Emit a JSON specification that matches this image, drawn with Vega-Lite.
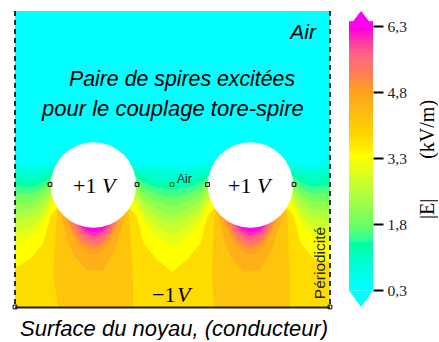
{
"$schema":"https://vega.github.io/schema/vega-lite/v6.json",
"padding":{"left":11,"top":10,"right":0,"bottom":0},
"background":"white",
"spacing":15,
"config":{"view":{"stroke":null}},
"datasets":{
"bands":[
{"E":0.3,"x":0,"y":296},{"E":0.3,"x":315,"y":296},
{"E":0.6,"x":0,"y":150},{"E":0.6,"x":7,"y":142},{"E":0.6,"x":16.5,"y":142},{"E":0.6,"x":28.5,"y":144},{"E":0.6,"x":35.5,"y":145},{"E":0.6,"x":48.5,"y":147},{"E":0.6,"x":108.5,"y":147},{"E":0.6,"x":121.5,"y":145},{"E":0.6,"x":128.5,"y":144},{"E":0.6,"x":140.5,"y":142},{"E":0.6,"x":157,"y":142},{"E":0.6,"x":173.5,"y":142},{"E":0.6,"x":185.5,"y":144},{"E":0.6,"x":192.5,"y":145},{"E":0.6,"x":205.5,"y":147},{"E":0.6,"x":265.5,"y":147},{"E":0.6,"x":278.5,"y":145},{"E":0.6,"x":285.5,"y":144},{"E":0.6,"x":302,"y":140},{"E":0.6,"x":315,"y":154},
{"E":0.9,"x":0,"y":139},{"E":0.9,"x":16.5,"y":135},{"E":0.9,"x":28.5,"y":137},{"E":0.9,"x":35.5,"y":139},{"E":0.9,"x":48.5,"y":142},{"E":0.9,"x":108.5,"y":142},{"E":0.9,"x":121.5,"y":139},{"E":0.9,"x":128.5,"y":137},{"E":0.9,"x":140.5,"y":135},{"E":0.9,"x":157,"y":134},{"E":0.9,"x":173.5,"y":135},{"E":0.9,"x":185.5,"y":137},{"E":0.9,"x":192.5,"y":139},{"E":0.9,"x":205.5,"y":142},{"E":0.9,"x":265.5,"y":142},{"E":0.9,"x":278.5,"y":139},{"E":0.9,"x":285.5,"y":137},{"E":0.9,"x":297.5,"y":135},{"E":0.9,"x":315,"y":141},
{"E":1.2,"x":0,"y":130},{"E":1.2,"x":16.5,"y":127},{"E":1.2,"x":28.5,"y":131},{"E":1.2,"x":35.5,"y":134},{"E":1.2,"x":48.5,"y":137},{"E":1.2,"x":108.5,"y":137},{"E":1.2,"x":121.5,"y":134},{"E":1.2,"x":128.5,"y":131},{"E":1.2,"x":140.5,"y":127},{"E":1.2,"x":157,"y":125},{"E":1.2,"x":173.5,"y":127},{"E":1.2,"x":185.5,"y":131},{"E":1.2,"x":192.5,"y":134},{"E":1.2,"x":205.5,"y":137},{"E":1.2,"x":265.5,"y":137},{"E":1.2,"x":278.5,"y":134},{"E":1.2,"x":285.5,"y":131},{"E":1.2,"x":297.5,"y":127},{"E":1.2,"x":315,"y":132},
{"E":1.5,"x":0,"y":121},{"E":1.5,"x":16.5,"y":120},{"E":1.5,"x":28.5,"y":125},{"E":1.5,"x":35.5,"y":130},{"E":1.5,"x":48.5,"y":133},{"E":1.5,"x":108.5,"y":133},{"E":1.5,"x":121.5,"y":130},{"E":1.5,"x":128.5,"y":125},{"E":1.5,"x":140.5,"y":120},{"E":1.5,"x":157,"y":117},{"E":1.5,"x":173.5,"y":120},{"E":1.5,"x":185.5,"y":125},{"E":1.5,"x":192.5,"y":130},{"E":1.5,"x":205.5,"y":133},{"E":1.5,"x":265.5,"y":133},{"E":1.5,"x":278.5,"y":130},{"E":1.5,"x":285.5,"y":125},{"E":1.5,"x":297.5,"y":120},{"E":1.5,"x":315,"y":122},
{"E":1.8,"x":0,"y":113},{"E":1.8,"x":16.5,"y":113},{"E":1.8,"x":28.5,"y":119},{"E":1.8,"x":35.5,"y":126},{"E":1.8,"x":48.5,"y":129},{"E":1.8,"x":108.5,"y":129},{"E":1.8,"x":121.5,"y":126},{"E":1.8,"x":128.5,"y":119},{"E":1.8,"x":140.5,"y":113},{"E":1.8,"x":157,"y":109},{"E":1.8,"x":173.5,"y":113},{"E":1.8,"x":185.5,"y":119},{"E":1.8,"x":192.5,"y":126},{"E":1.8,"x":205.5,"y":129},{"E":1.8,"x":265.5,"y":129},{"E":1.8,"x":278.5,"y":126},{"E":1.8,"x":285.5,"y":119},{"E":1.8,"x":297.5,"y":113},{"E":1.8,"x":315,"y":114},
{"E":2.1,"x":0,"y":104},{"E":2.1,"x":16.5,"y":106},{"E":2.1,"x":28.5,"y":113},{"E":2.1,"x":35.5,"y":122},{"E":2.1,"x":48.5,"y":125},{"E":2.1,"x":108.5,"y":125},{"E":2.1,"x":121.5,"y":122},{"E":2.1,"x":128.5,"y":113},{"E":2.1,"x":140.5,"y":106},{"E":2.1,"x":157,"y":101},{"E":2.1,"x":173.5,"y":106},{"E":2.1,"x":185.5,"y":113},{"E":2.1,"x":192.5,"y":122},{"E":2.1,"x":205.5,"y":125},{"E":2.1,"x":265.5,"y":125},{"E":2.1,"x":278.5,"y":122},{"E":2.1,"x":285.5,"y":113},{"E":2.1,"x":297.5,"y":106},{"E":2.1,"x":315,"y":105},
{"E":2.4,"x":0,"y":94},{"E":2.4,"x":16.5,"y":98},{"E":2.4,"x":28.5,"y":107},{"E":2.4,"x":35.5,"y":117},{"E":2.4,"x":48.5,"y":121},{"E":2.4,"x":108.5,"y":121},{"E":2.4,"x":121.5,"y":117},{"E":2.4,"x":128.5,"y":107},{"E":2.4,"x":140.5,"y":98},{"E":2.4,"x":157,"y":92},{"E":2.4,"x":173.5,"y":98},{"E":2.4,"x":185.5,"y":107},{"E":2.4,"x":192.5,"y":117},{"E":2.4,"x":205.5,"y":121},{"E":2.4,"x":265.5,"y":121},{"E":2.4,"x":278.5,"y":117},{"E":2.4,"x":285.5,"y":107},{"E":2.4,"x":297.5,"y":98},{"E":2.4,"x":315,"y":96},
{"E":2.7,"x":0,"y":85},{"E":2.7,"x":16.5,"y":90},{"E":2.7,"x":28.5,"y":100},{"E":2.7,"x":35.5,"y":112},{"E":2.7,"x":48.5,"y":117},{"E":2.7,"x":108.5,"y":117},{"E":2.7,"x":121.5,"y":112},{"E":2.7,"x":128.5,"y":100},{"E":2.7,"x":140.5,"y":90},{"E":2.7,"x":157,"y":83},{"E":2.7,"x":173.5,"y":90},{"E":2.7,"x":185.5,"y":100},{"E":2.7,"x":192.5,"y":112},{"E":2.7,"x":205.5,"y":117},{"E":2.7,"x":265.5,"y":117},{"E":2.7,"x":278.5,"y":112},{"E":2.7,"x":285.5,"y":100},{"E":2.7,"x":297.5,"y":90},{"E":2.7,"x":315,"y":86},
{"E":3.0,"x":0,"y":75},{"E":3.0,"x":16.5,"y":81},{"E":3.0,"x":28.5,"y":93},{"E":3.0,"x":35.5,"y":107},{"E":3.0,"x":48.5,"y":113},{"E":3.0,"x":108.5,"y":113},{"E":3.0,"x":121.5,"y":107},{"E":3.0,"x":128.5,"y":93},{"E":3.0,"x":140.5,"y":81},{"E":3.0,"x":157,"y":73},{"E":3.0,"x":173.5,"y":81},{"E":3.0,"x":185.5,"y":93},{"E":3.0,"x":192.5,"y":107},{"E":3.0,"x":205.5,"y":113},{"E":3.0,"x":265.5,"y":113},{"E":3.0,"x":278.5,"y":107},{"E":3.0,"x":285.5,"y":93},{"E":3.0,"x":297.5,"y":81},{"E":3.0,"x":315,"y":76},
{"E":3.3,"x":0,"y":63},{"E":3.3,"x":16.5,"y":71},{"E":3.3,"x":28.5,"y":85},{"E":3.3,"x":35.5,"y":102},{"E":3.3,"x":48.5,"y":109},{"E":3.3,"x":108.5,"y":109},{"E":3.3,"x":121.5,"y":102},{"E":3.3,"x":128.5,"y":85},{"E":3.3,"x":140.5,"y":71},{"E":3.3,"x":157,"y":61},{"E":3.3,"x":173.5,"y":71},{"E":3.3,"x":185.5,"y":85},{"E":3.3,"x":192.5,"y":102},{"E":3.3,"x":205.5,"y":109},{"E":3.3,"x":265.5,"y":109},{"E":3.3,"x":278.5,"y":102},{"E":3.3,"x":285.5,"y":85},{"E":3.3,"x":297.5,"y":71},{"E":3.3,"x":315,"y":64},
{"E":3.7,"x":0,"y":39},{"E":3.7,"x":16.5,"y":49},{"E":3.7,"x":28.5,"y":64},{"E":3.7,"x":35.5,"y":91},{"E":3.7,"x":48.5,"y":107},{"E":3.7,"x":108.5,"y":107},{"E":3.7,"x":121.5,"y":91},{"E":3.7,"x":128.5,"y":64},{"E":3.7,"x":140.5,"y":49},{"E":3.7,"x":157,"y":35},{"E":3.7,"x":173.5,"y":49},{"E":3.7,"x":185.5,"y":64},{"E":3.7,"x":192.5,"y":91},{"E":3.7,"x":205.5,"y":107},{"E":3.7,"x":265.5,"y":107},{"E":3.7,"x":278.5,"y":91},{"E":3.7,"x":285.5,"y":64},{"E":3.7,"x":297.5,"y":49},{"E":3.7,"x":315,"y":45}
],
"blobs":[
{"id":"a1","E":4.1,"x":38,"y":34,"y2":34},{"id":"a1","E":4.1,"x":40,"y":62,"y2":20},{"id":"a1","E":4.1,"x":42,"y":95,"y2":7},{"id":"a1","E":4.1,"x":43,"y":96,"y2":0},{"id":"a1","E":4.1,"x":45,"y":102,"y2":0},{"id":"a1","E":4.1,"x":112,"y":102,"y2":0},{"id":"a1","E":4.1,"x":114,"y":92,"y2":0},{"id":"a1","E":4.1,"x":118,"y":30,"y2":0},
{"id":"a2","E":4.1,"x":197,"y":34,"y2":34},{"id":"a2","E":4.1,"x":198,"y":60,"y2":15},{"id":"a2","E":4.1,"x":199,"y":90,"y2":5},{"id":"a2","E":4.1,"x":200,"y":92,"y2":0},{"id":"a2","E":4.1,"x":203,"y":102,"y2":0},{"id":"a2","E":4.1,"x":269,"y":102,"y2":0},{"id":"a2","E":4.1,"x":272,"y":94,"y2":0},{"id":"a2","E":4.1,"x":275,"y":30,"y2":0},
{"id":"b1","E":4.5,"x":45,"y":102,"y2":97},{"id":"b1","E":4.5,"x":53,"y":102,"y2":64},{"id":"b1","E":4.5,"x":60,"y":102,"y2":50},{"id":"b1","E":4.5,"x":72,"y":102,"y2":37},{"id":"b1","E":4.5,"x":88,"y":102,"y2":37},{"id":"b1","E":4.5,"x":100,"y":102,"y2":57},{"id":"b1","E":4.5,"x":105,"y":102,"y2":74},{"id":"b1","E":4.5,"x":112,"y":102,"y2":97},
{"id":"b2","E":4.5,"x":202,"y":102,"y2":97},{"id":"b2","E":4.5,"x":210,"y":102,"y2":64},{"id":"b2","E":4.5,"x":217,"y":102,"y2":48},{"id":"b2","E":4.5,"x":229,"y":102,"y2":36},{"id":"b2","E":4.5,"x":245,"y":102,"y2":37},{"id":"b2","E":4.5,"x":257,"y":102,"y2":57},{"id":"b2","E":4.5,"x":262,"y":102,"y2":74},{"id":"b2","E":4.5,"x":269,"y":102,"y2":97},
{"id":"c1","E":4.8,"x":50,"y":102,"y2":92},{"id":"c1","E":4.8,"x":53,"y":102,"y2":82},{"id":"c1","E":4.8,"x":62,"y":102,"y2":64},{"id":"c1","E":4.8,"x":72,"y":102,"y2":54},{"id":"c1","E":4.8,"x":82,"y":102,"y2":52},{"id":"c1","E":4.8,"x":92,"y":102,"y2":60},{"id":"c1","E":4.8,"x":100,"y":102,"y2":77},{"id":"c1","E":4.8,"x":107,"y":102,"y2":92},
{"id":"c2","E":4.8,"x":207,"y":102,"y2":92},{"id":"c2","E":4.8,"x":210,"y":102,"y2":82},{"id":"c2","E":4.8,"x":219,"y":102,"y2":64},{"id":"c2","E":4.8,"x":229,"y":102,"y2":54},{"id":"c2","E":4.8,"x":239,"y":102,"y2":52},{"id":"c2","E":4.8,"x":249,"y":102,"y2":60},{"id":"c2","E":4.8,"x":257,"y":102,"y2":77},{"id":"c2","E":4.8,"x":264,"y":102,"y2":92},
{"id":"d1","E":5.1,"x":52,"y":102,"y2":90},{"id":"d1","E":5.1,"x":58,"y":102,"y2":76},{"id":"d1","E":5.1,"x":66,"y":102,"y2":64},{"id":"d1","E":5.1,"x":78,"y":102,"y2":58},{"id":"d1","E":5.1,"x":90,"y":102,"y2":64},{"id":"d1","E":5.1,"x":98,"y":102,"y2":76},{"id":"d1","E":5.1,"x":105,"y":102,"y2":90},
{"id":"d2","E":5.1,"x":209,"y":102,"y2":90},{"id":"d2","E":5.1,"x":215,"y":102,"y2":76},{"id":"d2","E":5.1,"x":223,"y":102,"y2":64},{"id":"d2","E":5.1,"x":235,"y":102,"y2":58},{"id":"d2","E":5.1,"x":247,"y":102,"y2":64},{"id":"d2","E":5.1,"x":255,"y":102,"y2":76},{"id":"d2","E":5.1,"x":262,"y":102,"y2":90},
{"id":"e1","E":5.4,"x":57,"y":102,"y2":87},{"id":"e1","E":5.4,"x":64,"y":102,"y2":72},{"id":"e1","E":5.4,"x":72,"y":102,"y2":65},{"id":"e1","E":5.4,"x":80,"y":102,"y2":62},{"id":"e1","E":5.4,"x":88,"y":102,"y2":66},{"id":"e1","E":5.4,"x":95,"y":102,"y2":73},{"id":"e1","E":5.4,"x":100,"y":102,"y2":87},
{"id":"e2","E":5.4,"x":214,"y":102,"y2":87},{"id":"e2","E":5.4,"x":221,"y":102,"y2":72},{"id":"e2","E":5.4,"x":229,"y":102,"y2":65},{"id":"e2","E":5.4,"x":237,"y":102,"y2":62},{"id":"e2","E":5.4,"x":245,"y":102,"y2":66},{"id":"e2","E":5.4,"x":252,"y":102,"y2":73},{"id":"e2","E":5.4,"x":257,"y":102,"y2":87},
{"id":"f1","E":5.7,"x":60,"y":102,"y2":85},{"id":"f1","E":5.7,"x":67,"y":102,"y2":73},{"id":"f1","E":5.7,"x":78,"y":102,"y2":67},{"id":"f1","E":5.7,"x":90,"y":102,"y2":72},{"id":"f1","E":5.7,"x":98,"y":102,"y2":85},
{"id":"f2","E":5.7,"x":217,"y":102,"y2":85},{"id":"f2","E":5.7,"x":224,"y":102,"y2":73},{"id":"f2","E":5.7,"x":235,"y":102,"y2":67},{"id":"f2","E":5.7,"x":247,"y":102,"y2":72},{"id":"f2","E":5.7,"x":255,"y":102,"y2":85},
{"id":"g1","E":6.0,"x":62,"y":102,"y2":84},{"id":"g1","E":6.0,"x":70,"y":102,"y2":75},{"id":"g1","E":6.0,"x":79,"y":102,"y2":71},{"id":"g1","E":6.0,"x":88,"y":102,"y2":75},{"id":"g1","E":6.0,"x":96,"y":102,"y2":84},
{"id":"g2","E":6.0,"x":219,"y":102,"y2":84},{"id":"g2","E":6.0,"x":227,"y":102,"y2":75},{"id":"g2","E":6.0,"x":236,"y":102,"y2":71},{"id":"g2","E":6.0,"x":245,"y":102,"y2":75},{"id":"g2","E":6.0,"x":253,"y":102,"y2":84},
{"id":"h1","E":6.3,"x":64,"y":102,"y2":83},{"id":"h1","E":6.3,"x":71,"y":102,"y2":77.5},{"id":"h1","E":6.3,"x":79,"y":102,"y2":75},{"id":"h1","E":6.3,"x":87,"y":102,"y2":77.5},{"id":"h1","E":6.3,"x":93,"y":102,"y2":83},
{"id":"h2","E":6.3,"x":221,"y":102,"y2":83},{"id":"h2","E":6.3,"x":228,"y":102,"y2":77.5},{"id":"h2","E":6.3,"x":236,"y":102,"y2":75},{"id":"h2","E":6.3,"x":244,"y":102,"y2":77.5},{"id":"h2","E":6.3,"x":250,"y":102,"y2":83}
]
},
"hconcat":[
{"width":315,"height":296,
"layer":[
{"data":{"name":"bands"},"mark":{"type":"area","orient":"vertical","clip":true,"line":false},
"encoding":{"x":{"field":"x","type":"quantitative","scale":{"domain":[0,315],"nice":false,"zero":false},"axis":null},
"y":{"field":"y","type":"quantitative","scale":{"domain":[0,296],"nice":false},"axis":null},
"y2":{"datum":0},
"detail":{"field":"E"},
"color":{"field":"E","type":"quantitative","legend":null,"scale":{"domain":[0.3,1.8,3.3,3.75,4.2,4.8,5.55,6.3],"range":["#00ffff","#70ff60","#ffff00","#ffd800","#ffc010","#ffa020","#ff6a80","#ff00f0"]}}}},
{"data":{"name":"blobs"},"mark":{"type":"area","orient":"vertical","clip":true},
"encoding":{"x":{"field":"x","type":"quantitative"},"y":{"field":"y","type":"quantitative"},"y2":{"field":"y2"},"detail":{"field":"id"},
"color":{"field":"E","type":"quantitative","legend":null}}},
{"data":{"values":[{"x":78.5,"y":122},{"x":235.5,"y":122}]},"mark":{"type":"point","shape":"circle","filled":true,"color":"white","opacity":1,"size":7310},
"encoding":{"x":{"field":"x","type":"quantitative"},"y":{"field":"y","type":"quantitative"}}},
{"data":{"values":[{"x":0},{"x":315}]},"mark":{"type":"rule","color":"black","strokeWidth":1.6,"strokeDash":[5,4]},
"encoding":{"x":{"field":"x","type":"quantitative"},"y":{"datum":296},"y2":{"datum":0}}},
{"data":{"values":[{"x":0,"x2":315,"y":-0.5}]},"mark":{"type":"rule","color":"#222222","strokeWidth":1.8},
"encoding":{"x":{"field":"x","type":"quantitative"},"x2":{"field":"x2"},"y":{"field":"y","type":"quantitative"}}},
{"data":{"values":[{"x":35,"y":122.5},{"x":122,"y":122.5},{"x":192.5,"y":122.5},{"x":279,"y":122.5},{"x":0,"y":0},{"x":315,"y":0}]},"mark":{"type":"point","shape":"square","filled":false,"color":"black","strokeWidth":1,"opacity":1,"size":14},
"encoding":{"x":{"field":"x","type":"quantitative"},"y":{"field":"y","type":"quantitative"}}},
{"data":{"values":[{"x":157,"y":122.5}]},"mark":{"type":"point","shape":"square","filled":false,"color":"#0a6a1a","strokeWidth":1,"opacity":1,"size":14},
"encoding":{"x":{"field":"x","type":"quantitative"},"y":{"field":"y","type":"quantitative"}}},
{"data":{"values":[{"x":301,"y":268,"t":"Air"}]},"mark":{"type":"text","font":"Liberation Sans","fontStyle":"italic","fontSize":21,"align":"right","baseline":"alphabetic","color":"black"},
"encoding":{"x":{"field":"x","type":"quantitative"},"y":{"field":"y","type":"quantitative"},"text":{"field":"t"}}},
{"data":{"values":[{"x":54,"y":221,"t":"Paire de spires excitées"}]},"mark":{"type":"text","font":"Liberation Sans","fontStyle":"italic","fontSize":21.3,"align":"left","baseline":"alphabetic","color":"black"},
"encoding":{"x":{"field":"x","type":"quantitative"},"y":{"field":"y","type":"quantitative"},"text":{"field":"t"}}},
{"data":{"values":[{"x":27,"y":191,"t":"pour le couplage tore-spire"},{"x":5,"y":-29,"t":"Surface du noyau, (conducteur)"}]},"mark":{"type":"text","font":"Liberation Sans","fontStyle":"italic","fontSize":22,"align":"left","baseline":"alphabetic","color":"black"},
"encoding":{"x":{"field":"x","type":"quantitative"},"y":{"field":"y","type":"quantitative"},"text":{"field":"t"}}},
{"data":{"values":[{"x":58,"y":114,"t":"+1"},{"x":213,"y":114,"t":"+1"},{"x":137,"y":5,"t":"−1"}]},"mark":{"type":"text","font":"Liberation Serif","fontSize":22,"align":"left","baseline":"alphabetic","color":"black"},
"encoding":{"x":{"field":"x","type":"quantitative"},"y":{"field":"y","type":"quantitative"},"text":{"field":"t"}}},
{"data":{"values":[{"x":87,"y":114,"t":"V"},{"x":242,"y":114,"t":"V"},{"x":162,"y":5,"t":"V"}]},"mark":{"type":"text","font":"Liberation Serif","fontStyle":"italic","fontSize":22,"align":"left","baseline":"alphabetic","color":"black"},
"encoding":{"x":{"field":"x","type":"quantitative"},"y":{"field":"y","type":"quantitative"},"text":{"field":"t"}}},
{"data":{"values":[{"x":162,"y":124,"t":"Air"}]},"mark":{"type":"text","font":"Liberation Sans","fontSize":12,"align":"left","baseline":"alphabetic","color":"#222222"},
"encoding":{"x":{"field":"x","type":"quantitative"},"y":{"field":"y","type":"quantitative"},"text":{"field":"t"}}},
{"data":{"values":[{"x":310,"y":44,"t":"Périodicité"}]},"mark":{"type":"text","font":"Liberation Sans","fontSize":15.5,"angle":270,"align":"center","baseline":"alphabetic","color":"#222222"},
"encoding":{"x":{"field":"x","type":"quantitative"},"y":{"field":"y","type":"quantitative"},"text":{"field":"t"}}}
]},
{"width":24,"height":296,
"layer":[
{"data":{"values":[{"E":0.3},{"E":0.4},{"E":0.5},{"E":0.6},{"E":0.7},{"E":0.8},{"E":0.9},{"E":1.0},{"E":1.1},{"E":1.2},{"E":1.3},{"E":1.4},{"E":1.5},{"E":1.6},{"E":1.7},{"E":1.8},{"E":1.9},{"E":2.0},{"E":2.1},{"E":2.2},{"E":2.3},{"E":2.4},{"E":2.5},{"E":2.6},{"E":2.7},{"E":2.8},{"E":2.9},{"E":3.0},{"E":3.1},{"E":3.2},{"E":3.3},{"E":3.4},{"E":3.5},{"E":3.6},{"E":3.7},{"E":3.8},{"E":3.9},{"E":4.0},{"E":4.1},{"E":4.2},{"E":4.3},{"E":4.4},{"E":4.5},{"E":4.6},{"E":4.7},{"E":4.8},{"E":4.9},{"E":5.0},{"E":5.1},{"E":5.2},{"E":5.3},{"E":5.4},{"E":5.5},{"E":5.6},{"E":5.7},{"E":5.8},{"E":5.9},{"E":6.0},{"E":6.1},{"E":6.2},{"E":6.3}]},
"mark":{"type":"bar","width":24,"orient":"vertical","cornerRadius":0},
"encoding":{
"y":{"field":"E","type":"quantitative","scale":{"domain":[-0.075,6.652],"nice":false,"zero":false},
"axis":{"orient":"right","values":[0.3,1.8,3.3,4.8,6.3],"labelExpr":"replace(format(datum.value,'.1f'),'.',',')","grid":false,"domain":false,"tickColor":"black","tickWidth":2,"tickSize":10,"labelFont":"Liberation Serif","labelFontSize":15.5,"labelColor":"#222222","labelPadding":4,"title":"|E|\u00a0\u00a0\u00a0\u00a0\u00a0\u00a0\u00a0\u00a0(kV/m)","titleFont":"Liberation Serif","titleFontSize":20,"titleFontWeight":"normal","titleColor":"black","titlePadding":11,"titleAngle":270,"titleBaseline":"top"}},
"y2":{"field":"E2"},
"color":{"field":"E","type":"quantitative","legend":null}},
"transform":[{"calculate":"datum.E+0.12","as":"E2"}]},
{"data":{"values":[{"s":"top","t":0,"a":6.3,"b":6.3,"E":6.3},{"s":"top","t":0.5,"a":6.3,"b":6.652,"E":6.3},{"s":"top","t":1,"a":6.3,"b":6.3,"E":6.3},{"s":"bottom","t":0,"a":0.3,"b":0.3,"E":0.3},{"s":"bottom","t":0.5,"a":0.3,"b":-0.075,"E":0.3},{"s":"bottom","t":1,"a":0.3,"b":0.3,"E":0.3}]},
"mark":{"type":"area","orient":"vertical"},
"encoding":{"x":{"field":"t","type":"quantitative","scale":{"domain":[0,1],"nice":false},"axis":null},
"y":{"field":"a","type":"quantitative"},"y2":{"field":"b"},"detail":{"field":"s"},
"color":{"field":"E","type":"quantitative","legend":null}}}
]}
]
}
